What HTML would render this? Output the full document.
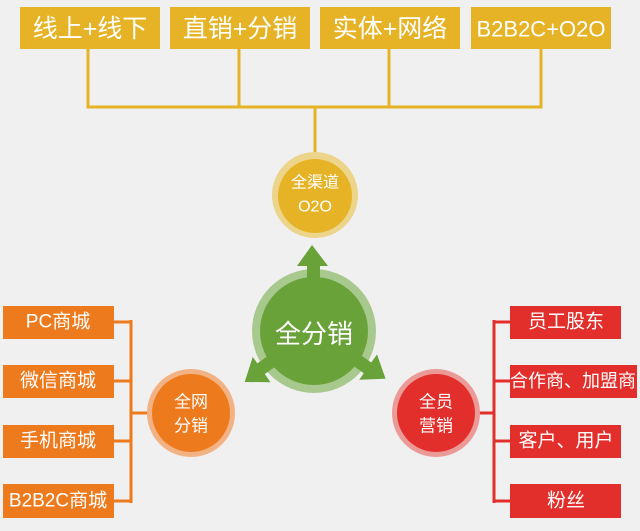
<!DOCTYPE html>
<html><head><meta charset="utf-8"><style>
body{margin:0;background:#f0f0f0;}
svg{display:block}
text{font-family:"Liberation Sans","Noto Sans CJK SC",sans-serif;fill:#fff;text-anchor:middle;dominant-baseline:central}
</style></head><body>
<svg width="640" height="531" viewBox="0 0 640 531">
<rect width="640" height="531" fill="#f0f0f0"/>
<g fill="#e5b325">
<rect x="20" y="7" width="140" height="42"/>
<rect x="170" y="7" width="140" height="42"/>
<rect x="320" y="7" width="140" height="42"/>
<rect x="471" y="7" width="140" height="42"/>
</g>
<g stroke="#e5b325" stroke-width="3" fill="none">
<path d="M88 49V107M239 49V107M389 49V107M541 49V107M86.5 107H542.5M315 107V155"/>
</g>
<text x="90" y="29" font-size="25">线上+线下</text>
<text x="240" y="29" font-size="25">直销+分销</text>
<text x="390" y="29" font-size="25">实体+网络</text>
<text x="541" y="29" font-size="22">B2B2C+O2O</text>
<circle cx="315" cy="195" r="43" fill="#ecd48a"/>
<circle cx="315" cy="196" r="37" fill="#e5b325"/>
<text x="315" y="183" font-size="16">全渠道</text>
<text x="315" y="207" font-size="16">O2O</text>
<circle cx="314" cy="331" r="62" fill="#a8c98e"/>
<circle cx="314" cy="331" r="54" fill="#6aa23a"/>
<g fill="#6aa23a">
<path id="ar" d="M307 290V266H297L312 245L328 266H320V290Z"/>
<use href="#ar" transform="rotate(-125 314 331)"/>
<use href="#ar" transform="rotate(125 314 331)"/>
</g>
<text x="314" y="334" font-size="26">全分销</text>
<g fill="#ee7a1e">
<rect x="3" y="306" width="111" height="33"/>
<rect x="3" y="365" width="111" height="33"/>
<rect x="3" y="425" width="111" height="33"/>
<rect x="3" y="484" width="111" height="34"/>
</g>
<path d="M114 322H131M114 381H131M114 441H131M114 501H131M131 320V503M131 413H152" stroke="#ee7a1e" stroke-width="3" fill="none"/>
<text x="58" y="322" font-size="19">PC商城</text>
<text x="58" y="381" font-size="19">微信商城</text>
<text x="58" y="441" font-size="19">手机商城</text>
<text x="58" y="501" font-size="19">B2B2C商城</text>
<circle cx="191" cy="413" r="44" fill="#f2b283"/>
<circle cx="191" cy="413" r="39" fill="#ee7a1e"/>
<text x="191" y="402" font-size="17">全网</text>
<text x="191" y="426" font-size="17">分销</text>
<g fill="#e32f2b">
<rect x="510" y="306" width="111" height="33"/>
<rect x="510" y="365" width="127" height="33"/>
<rect x="510" y="425" width="111" height="33"/>
<rect x="510" y="484" width="111" height="34"/>
</g>
<path d="M494 322H510M494 381H510M494 441H510M494 501H510M494 320V503M476 413H494" stroke="#e32f2b" stroke-width="3" fill="none"/>
<text x="566" y="322" font-size="19">员工股东</text>
<text x="573" y="381" font-size="18">合作商、加盟商</text>
<text x="566" y="441" font-size="19">客户、用户</text>
<text x="566" y="501" font-size="19">粉丝</text>
<circle cx="436" cy="413" r="44" fill="#eb9a98"/>
<circle cx="436" cy="413" r="39" fill="#e32f2b"/>
<text x="436" y="402" font-size="17">全员</text>
<text x="436" y="426" font-size="17">营销</text>
</svg>
</body></html>
